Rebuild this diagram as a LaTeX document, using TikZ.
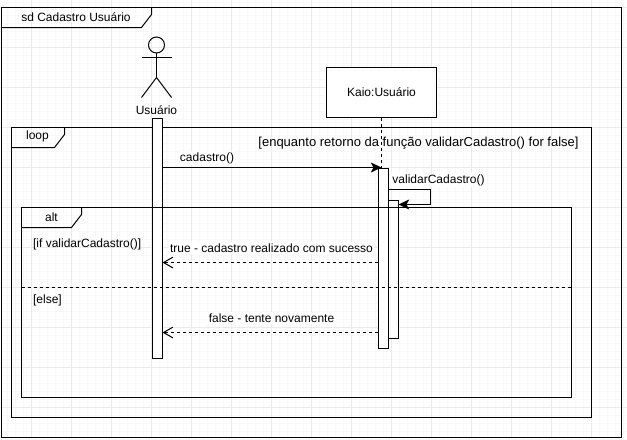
\documentclass[tikz,border=0pt]{standalone}
\usepackage{fontspec}
\setmainfont{Liberation Sans}
\usetikzlibrary{arrows.meta}
\definecolor{gridminor}{HTML}{F8F8F8}
\definecolor{gridmajor}{HTML}{EBEBEB}
\tikzset{
  x=0.75pt,y=-0.75pt,
  line/.style={draw=black,line width=0.75pt},
  frame/.style={line},
  bar/.style={line,fill=white},
  lbl/.style={font=\fontsize{9}{11}\selectfont,inner sep=1pt,text=black},
  lblbg/.style={lbl,fill=white},
  sync/.style={line,-{Stealth[length=8pt,width=7.5pt,inset=2pt]}},
  reply/.style={line,dash pattern=on 2.25pt off 2.25pt,-{Straight Barb[length=7pt,width=8pt]}},
}
\begin{document}
\begin{tikzpicture}
\useasboundingbox (0,0) rectangle (627,439);
\fill[white] (0,0) rectangle (627,439);
% grid
\foreach \i in {0,...,78}{\draw[gridminor,line width=0.75pt] ({7.5+8*\i},0) -- ({7.5+8*\i},439);}
\foreach \i in {0,...,54}{\draw[gridminor,line width=0.75pt] (0,{7.5+8*\i}) -- (627,{7.5+8*\i});}
\foreach \i in {0,...,15}{\draw[gridmajor,line width=0.75pt] ({31.5+40*\i},0) -- ({31.5+40*\i},439);}
\foreach \i in {0,...,10}{\draw[gridmajor,line width=0.75pt] (0,{7.5+40*\i}) -- (627,{7.5+40*\i});}
% outer frame
\draw[frame] (1.5,7.5) rectangle (621.5,437.5);
\draw[frame] (1.5,27.5) -- (141.5,27.5) -- (151.5,14.5) -- (151.5,7.5);
\node[lbl] (sdlabel) at (76,17) {sd Cadastro Usuário};
% actor
\coordinate (head) at (156.5,45);
\draw[line] (head) circle (8);
\draw[line] (156.5,53) -- (156.5,77.5);
\draw[line] (141.5,57.5) -- (171.5,57.5);
\draw[line] (141.5,97.5) -- (156.5,77.5) -- (171.5,97.5);
\node[lbl] (actor) at (156.5,110) {Usuário};
% object
\node[line,fill=white,minimum width=82.5pt,minimum height=37.5pt,inner sep=0pt,font=\fontsize{9}{11}\selectfont] (kaio) at (381.5,92.5) {Kaio:Usuário};
% loop frame
\draw[frame] (11.5,127.5) rectangle (591.5,417.5);
\draw[frame] (11.5,147.5) -- (54.5,147.5) -- (64.5,134.5) -- (64.5,127.5);
\node[lbl] (looplabel) at (37.5,136.5) {loop};
\node[lbl,font=\fontsize{9.75}{12}\selectfont] (guard) at (418.5,143.5) {[enquanto retorno da função validarCadastro() for false]};
% lifelines and bars
\coordinate (k1) at (381.5,167.5);
\draw[line,dash pattern=on 2.25pt off 2.25pt] (kaio.south) -- (k1);
\node[bar,minimum width=7.5pt,minimum height=180pt,inner sep=0pt,anchor=north west] (barA) at (151.5,117.5) {};
\node[bar,minimum width=7.5pt,minimum height=135pt,inner sep=0pt,anchor=north west] (barB) at (377.5,167.5) {};
\node[bar,minimum width=7.5pt,minimum height=103.5pt,inner sep=0pt,anchor=north west] (barC) at (387.5,199.5) {};
% alt frame
\draw[frame] (21.5,207.5) rectangle (571.5,397.5);
\draw[frame] (21.5,227.5) -- (71.5,227.5) -- (81.5,214.5) -- (81.5,207.5);
\node[lbl] (altlabel) at (51.5,217) {alt};
\draw[line,dash pattern=on 2.25pt off 2.25pt] (21.5,287.5) -- (571.5,287.5);
\node[lbl,anchor=west] (ifg) at (31.5,244) {[if validarCadastro()]};
\node[lbl,anchor=west] (elseg) at (31.5,300) {[else]};
% messages
\draw[sync] (barA.east |- 0,167.5) -- (k1);
\node[lblbg] (m1) at (207,158) {cadastro()};
\draw[line] (barB.east |- 0,189.5) -- (430.5,189.5) -- (430.5,204.5);
\draw[sync] (430.5,204.5) -- (barC.east |- 0,204.5);
\node[lblbg] (m2) at (438.5,180) {validarCadastro()};
\draw[reply] (barB.west |- 0,262.5) -- (barA.east |- 0,262.5);
\node[lblbg] (m3) at (271.5,248) {true - cadastro realizado com sucesso};
\draw[reply] (barB.west |- 0,332.5) -- (barA.east |- 0,332.5);
\node[lblbg] (m4) at (271.5,318) {false - tente novamente};
\end{tikzpicture}
\end{document}
